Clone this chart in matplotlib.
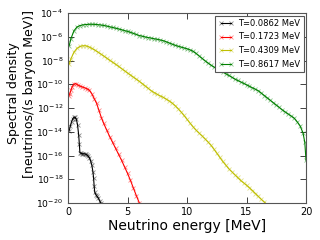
import numpy as np
import matplotlib
matplotlib.use("Agg")
import matplotlib.pyplot as plt

labels = ["T=0.0862 MeV", "T=0.1723 MeV", "T=0.4309 MeV", "T=0.8617 MeV"]
colors = ["black", "red", "#bfbf00", "green"]

# energies [MeV] and log10 of spectral density
e_black = [0.1, 0.2, 0.3, 0.4, 0.5, 0.6, 0.7, 0.8, 0.9, 0.95, 1.0, 1.1, 1.2, 1.3, 1.4, 1.5,
           1.6, 1.7, 1.8, 1.9, 2.0, 2.1, 2.15, 2.2, 2.25, 2.35, 2.45, 2.55, 2.65, 2.75, 2.85]
lg_black = [-13.9, -13.5, -13.15, -12.9, -12.78, -12.78, -12.95, -13.4, -14.3, -15.0, -15.75,
            -15.82, -15.85, -15.85, -15.87, -15.9, -15.95, -16.05, -16.2, -16.45, -16.8, -17.4,
            -17.9, -18.6, -19.1, -19.3, -19.45, -19.6, -19.8, -20.0, -20.3]

e_red = [0.05, 0.15, 0.25, 0.35, 0.5, 0.65, 0.8, 1.0, 1.2, 1.4, 1.6, 1.8, 2.0, 2.2, 2.4, 2.6,
         2.8, 3.0, 3.25, 3.5, 3.75, 4.0, 4.25, 4.5, 4.75, 5.0, 5.25, 5.5, 5.75, 6.0, 6.1]
lg_red = [-11.0, -10.8, -10.5, -10.2, -9.98, -9.95, -10.05, -10.15, -10.22, -10.3, -10.38,
          -10.5, -10.8, -11.2, -11.6, -12.2, -12.8, -13.3, -13.85, -14.4, -14.9, -15.4, -15.9,
          -16.4, -16.95, -17.5, -18.1, -18.75, -19.4, -20.0, -20.3]

e_yellow = [0.1, 0.25, 0.5, 0.75, 1.0, 1.25, 1.5, 1.75, 2.0, 2.25, 2.5, 2.75, 3.0, 3.25, 3.5,
            3.75, 4.0, 4.25, 4.5, 4.75, 5.0, 5.25, 5.5, 5.75, 6.0, 6.25, 6.5, 6.75, 7.0, 7.25,
            7.5, 7.75, 8.0, 8.25, 8.5, 8.75, 9.0, 9.25, 9.5, 9.75, 10.0, 10.25, 10.5, 10.75,
            11.0, 11.25, 11.5, 11.75, 12.0, 12.25, 12.5, 12.75, 13.0, 13.25, 13.5, 13.75, 14.0,
            14.25, 14.5, 14.75, 15.0, 15.25, 15.5, 15.75, 16.0, 16.25, 16.5, 16.75]
lg_yellow = [-8.3, -7.85, -7.3, -6.98, -6.82, -6.76, -6.76, -6.85, -6.98, -7.12, -7.28, -7.45,
             -7.62, -7.8, -7.98, -8.15, -8.32, -8.5, -8.68, -8.86, -9.05, -9.22, -9.4, -9.58,
             -9.76, -9.95, -10.15, -10.35, -10.55, -10.7, -10.85, -10.98, -11.1, -11.25, -11.4,
             -11.58, -11.8, -12.05, -12.33, -12.63, -12.95, -13.27, -13.57, -13.85, -14.1, -14.33,
             -14.58, -14.84, -15.12, -15.45, -15.8, -16.15, -16.5, -16.8, -17.1, -17.35, -17.6,
             -17.85, -18.1, -18.3, -18.5, -18.72, -18.95, -19.2, -19.45, -19.7, -19.92, -20.15]

e_green = [0.1, 0.25, 0.5, 0.75, 1.0, 1.25, 1.5, 1.75, 2.0, 2.25, 2.5, 2.75, 3.0, 3.25, 3.5,
           3.75, 4.0, 4.25, 4.5, 4.75, 5.0, 5.25, 5.5, 5.75, 6.0, 6.25, 6.5, 6.75, 7.0, 7.25,
           7.5, 7.75, 8.0, 8.25, 8.5, 8.75, 9.0, 9.25, 9.5, 9.75, 10.0, 10.25, 10.5, 10.75,
           11.0, 11.25, 11.5, 11.75, 12.0, 12.25, 12.5, 12.75, 13.0, 13.25, 13.5, 13.75, 14.0,
           14.25, 14.5, 14.75, 15.0, 15.25, 15.5, 15.75, 16.0, 16.25, 16.5, 16.75, 17.0, 17.25,
           17.5, 17.75, 18.0, 18.25, 18.5, 18.75, 19.0, 19.25, 19.5, 19.75, 19.9, 20.0]
lg_green = [-6.75, -6.15, -5.5, -5.18, -5.06, -5.0, -4.97, -4.95, -4.95, -4.96, -4.98, -5.01,
            -5.05, -5.1, -5.16, -5.22, -5.28, -5.34, -5.41, -5.48, -5.55, -5.63, -5.72, -5.81,
            -5.9, -5.96, -6.02, -6.07, -6.12, -6.17, -6.22, -6.27, -6.33, -6.42, -6.52, -6.62,
            -6.72, -6.8, -6.87, -6.94, -7.01, -7.1, -7.22, -7.4, -7.6, -7.81, -8.01, -8.2,
            -8.38, -8.54, -8.68, -8.81, -8.95, -9.1, -9.25, -9.4, -9.55, -9.68, -9.8, -9.92,
            -10.05, -10.17, -10.3, -10.42, -10.55, -10.75, -10.95, -11.15, -11.35, -11.55,
            -11.75, -11.95, -12.15, -12.33, -12.5, -12.67, -12.85, -13.15, -13.5, -14.1, -14.9,
            -16.4]

xticks = [0, 5, 10, 15, 20]
yexps = [-20, -18, -16, -14, -12, -10, -8, -6, -4]

fig = plt.figure(figsize=(3.2, 2.4), dpi=100)
ax = fig.add_axes([68 / 320, 1 - 203 / 240, 238 / 320, 190 / 240])

series = [(e_black, lg_black), (e_red, lg_red), (e_yellow, lg_yellow), (e_green, lg_green)]
for (e, lg), c, lab in zip(series, colors, labels):
    mec = matplotlib.colors.to_rgba(c, 0.45)
    ax.plot(e, 10.0 ** np.array(lg), color=c, lw=0.8, marker="x", ms=3.5, mew=0.6,
            mec=mec, label=lab)

ax.set_yscale("log")
ax.set_xlim(0, 20)
ax.set_ylim(1e-20, 1e-4)
ax.set_xticks(xticks)
ax.set_xticklabels([str(t) for t in xticks])
ax.set_yticks([10.0 ** k for k in yexps])
ax.set_yticklabels([r"$\mathregular{10^{%d}}$" % k for k in yexps])
ax.yaxis.set_minor_locator(matplotlib.ticker.NullLocator())
ax.tick_params(direction="in", top=True, right=True, length=4, width=0.6, labelsize=7,
               pad=3, colors="#222222", labelcolor="black")
ax.tick_params(axis="y", labelsize=6.6, pad=3.5)
for s in ax.spines.values():
    s.set_color("#555555")
    s.set_linewidth(0.8)

ax.set_xlabel("Neutrino energy [MeV]", fontsize=10, labelpad=1)
ax.set_ylabel("Spectral density\n[neutrinos/(s baryon MeV)]", fontsize=9, linespacing=1.3)
ax.yaxis.set_label_coords(-0.135, 0.576)

leg = ax.legend(loc="upper right", fontsize=6, numpoints=2, fancybox=False,
                edgecolor="#555555", framealpha=1, handlelength=1.8, handletextpad=0.6,
                labelspacing=0.55, borderaxespad=0.3, borderpad=0.4)
leg.get_frame().set_linewidth(0.8)

fig.savefig("out.png", dpi=100)
